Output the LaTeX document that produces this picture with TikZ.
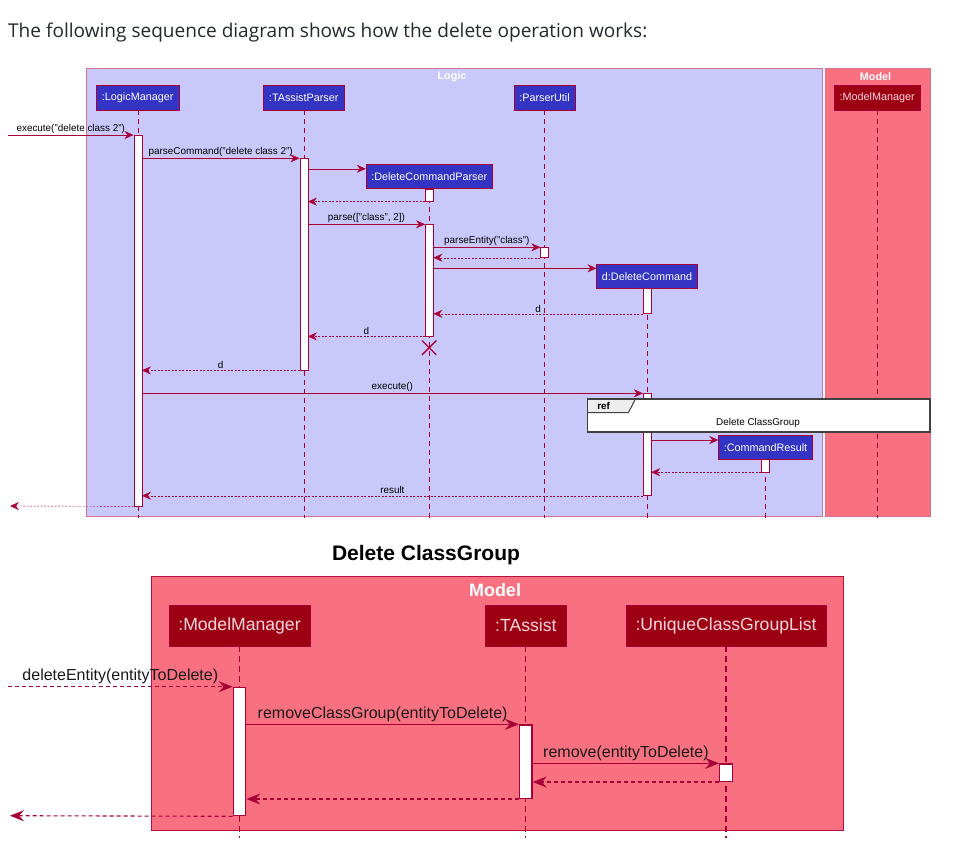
\documentclass[tikz,border=0pt]{standalone}
\usepackage{fontspec}
\setmainfont{Liberation Sans}
\newfontfamily\pagefont{Open Sans}
\usetikzlibrary{arrows.meta,positioning,shapes.misc}

\definecolor{crim}{HTML}{A80036}
\definecolor{logicc}{HTML}{3333C4}
\definecolor{logict}{HTML}{C8C8FA}
\definecolor{modelc}{HTML}{9D0012}
\definecolor{modelt}{HTML}{F97181}
\definecolor{mtext}{HTML}{FAD7DC}
\definecolor{pagetext}{HTML}{24292E}

\tikzset{
  boxtitle/.style={text=white, inner sep=0pt, font=\bfseries\fontsize{10.8}{12}\selectfont},
  lpart/.style={draw=crim, fill=logicc, text=white, minimum height=25pt, inner xsep=5.3pt, inner ysep=0pt, font=\fontsize{10.8}{12}\selectfont},
  mpart/.style={lpart, fill=modelc, text=mtext},
  life/.style={crim, dash pattern=on 5pt off 4pt},
  act/.style={draw=crim, fill=white, minimum width=8pt, inner sep=0pt, anchor=north},
  msg/.style={crim, -{Stealth[length=9pt,width=8pt,inset=3pt]}},
  ret/.style={msg, dash pattern=on 2pt off 1.5pt},
  lbl/.style={midway, above=1.5pt, inner sep=0pt, text=black, font=\fontsize{9.9}{11}\selectfont},
  bpart/.style={draw=crim, fill=modelc, text=mtext, minimum height=41pt, inner sep=0pt, font=\fontsize{17.6}{20}\selectfont},
  blife/.style={crim, line width=1.2pt, dash pattern=on 6pt off 4pt},
  bact/.style={draw=crim, line width=1.3pt, fill=white, minimum width=12.5pt, inner sep=0pt, anchor=north},
  bmsg/.style={crim, line width=1.3pt, -{Stealth[length=14pt,width=11pt,inset=5pt]}},
  bret/.style={bmsg, line width=1.1pt, dash pattern=on 4pt off 3pt},
  blbl/.style={midway, above=2pt, inner sep=0pt, text=black!90, font=\fontsize{16}{18}\selectfont},
  refline/.style={draw=black!75, line width=1.5pt}
}

\begin{document}
\begin{tikzpicture}[x=1pt,y=-1pt]
\useasboundingbox (0,0) rectangle (963,846);

\node[anchor=base west, inner sep=0pt, text=pagetext, font=\pagefont\fontsize{19.05}{22}\selectfont] (intro) at (8,37) {The following sequence diagram shows how the delete operation works:};

\draw[draw=crim!55!white, fill=logict] (86,68.3) rectangle (822.6,515.7);
\draw[draw=crim!55!white, fill=modelt] (824.8,68.3) rectangle (930.3,515.7);
\node[boxtitle] (logicT) at (452,76.7) {Logic};
\node[boxtitle] (modelT) at (875.5,76.7) {Model};

\node[lpart] (lm) at (137.7,97.5) {:LogicManager};
\node[lpart] (tp) at (303.7,97.5) {:TAssistParser};
\node[lpart] (pu) at (544.5,97.5) {:ParserUtil};
\node[mpart] (mm) at (877.2,97.5) {:ModelManager};
\node[lpart, minimum height=24pt] (dcp) at (429.2,176.3) {:DeleteCommandParser};
\node[lpart, minimum height=24pt] (dc) at (647,276.2) {d:DeleteCommand};
\node[lpart, minimum height=24pt] (cr) at (765.5,447.2) {:CommandResult};

\coordinate (tb) at (0,518);
\foreach \p in {lm,tp,pu,mm,dcp,dc,cr}
  \draw[life] (\p.south) -- (\p.south |- tb);

\node[act, minimum height=371pt] (aLM) at (lm.south |- 0,135) {};
\node[act, minimum height=211.7pt] (aTP) at (tp.south |- 0,158.3) {};
\node[act, minimum height=12.7pt] (aDCP1) at (dcp.south) {};
\node[act, minimum height=111.7pt] (aDCP2) at (dcp.south |- 0,224.3) {};
\node[act, minimum height=10pt] (aPU) at (pu.south |- 0,247.3) {};
\node[act, minimum height=25pt] (aDC1) at (dc.south) {};
\node[act, minimum height=102pt] (aDC2) at (dc.south |- 0,393.3) {};
\node[act, minimum height=12.4pt] (aCR) at (cr.south) {};

\coordinate (inLM) at (8,135);
\draw[msg] (inLM) -- (aLM.north west) node[lbl] {execute("delete class 2")};
\draw[msg] (aLM.east |- aTP.north) -- (aTP.north west) node[lbl] {parseCommand("delete class 2")};
\path ([yshift=-4.7pt]dcp.north west) coordinate (dcpIn);
\draw[msg] (aTP.east |- dcpIn) -- (dcpIn);
\draw[ret] (aDCP1.south west) -- (aTP.east |- aDCP1.south);
\draw[msg] (aTP.east |- aDCP2.north) -- (aDCP2.north west) node[lbl] {parse(["class", 2])};
\draw[msg] (aDCP2.east |- aPU.north) -- (aPU.north west) node[lbl] {parseEntity("class")};
\draw[ret] (aPU.south west) -- (aDCP2.east |- aPU.south);
\path ([yshift=-4.3pt]dc.north west) coordinate (dcIn);
\draw[msg] (aDCP2.east |- dcIn) -- (dcIn);
\draw[ret] (aDC1.south west) -- (aDCP2.east |- aDC1.south) node[lbl] {d};
\draw[ret] (aDCP2.south west) -- (aTP.east |- aDCP2.south) node[lbl] {d};
\node[cross out, draw=crim, line width=1.3pt, minimum size=13pt, inner sep=0pt] (xDCP) at (dcp.south |- 0,347.7) {};
\draw[ret] (aTP.south west) -- (aLM.east |- aTP.south) node[lbl] {d};
\draw[msg] (aLM.east |- aDC2.north) -- (aDC2.north west) node[lbl] {execute()};
\path ([yshift=-5pt]cr.north west) coordinate (crIn);
\draw[msg] (aDC2.east |- crIn) -- (crIn);
\draw[ret] (aCR.south west) -- (aDC2.east |- aCR.south);
\draw[ret] (aDC2.south west) -- (aLM.east |- aDC2.south) node[lbl] {result};
\coordinate (outLM) at (10,506);
\draw[ret] (aLM.south west) -- (outLM);

\node[fill=white, minimum width=342.2pt, minimum height=32.7pt, anchor=north west, inner sep=0pt] (ref) at (587.4,399) {};
\fill[black!7] (ref.north west) -- ++(48,0) -- ++(-7,13.7) -- ++(-41,0) -- cycle;
\draw[draw=black!75, line width=1pt] (ref.north west) ++(48,0) -- ++(-7,13.7) -- ++(-41,0);
\draw[refline] (ref.north west) rectangle (ref.south east);
\node[font=\bfseries\fontsize{9.9}{11}\selectfont, inner sep=0pt] (refTag) at (603.6,406.3) {ref};
\node[font=\fontsize{9.9}{11}\selectfont, inner sep=0pt] (refText) at (758,422.7) {Delete ClassGroup};

\node[font=\bfseries\fontsize{21}{24}\selectfont, inner sep=0pt] (title) at (426,555) {Delete ClassGroup};
\draw[draw=crim!85!modelt, line width=1.3pt, fill=modelt] (151.7,576.7) rectangle (843.3,830.7);
\node[boxtitle, font=\bfseries\fontsize{18}{20}\selectfont] (modelT2) at (495,590) {Model};

\node[bpart, minimum width=141pt] (mm2) at (239.5,625.5) {:ModelManager};
\node[bpart, minimum width=81.7pt] (ta) at (525.8,625.5) {:TAssist};
\node[bpart, minimum width=200pt] (ucgl) at (726,625.5) {:UniqueClassGroupList};

\coordinate (bb) at (0,838);
\foreach \p in {mm2,ta,ucgl}
  \draw[blife] (\p.south) -- (\p.south |- bb);

\node[bact, minimum height=128.3pt] (aMM) at (mm2.south |- 0,686.7) {};
\node[bact, minimum height=73.4pt] (aTA) at (ta.south |- 0,724.3) {};
\node[bact, minimum height=17.4pt] (aUC) at (ucgl.south |- 0,763.3) {};

\coordinate (inMM) at (8,686.7);
\draw[bret] (inMM) -- (aMM.north west) node[blbl] {deleteEntity(entityToDelete)};
\draw[bmsg] (aMM.east |- aTA.north) -- (aTA.north west) node[blbl] {removeClassGroup(entityToDelete)};
\draw[bmsg] (aTA.east |- aUC.north) -- (aUC.north west) node[blbl] {remove(entityToDelete)};
\draw[bret] (aUC.south west) -- (aTA.east |- aUC.south);
\draw[bret] (aTA.south west) -- (aMM.east |- aTA.south);
\coordinate (outMM) at (10,815.7);
\draw[bret] (aMM.south west) -- (outMM);
\end{tikzpicture}
\end{document}
